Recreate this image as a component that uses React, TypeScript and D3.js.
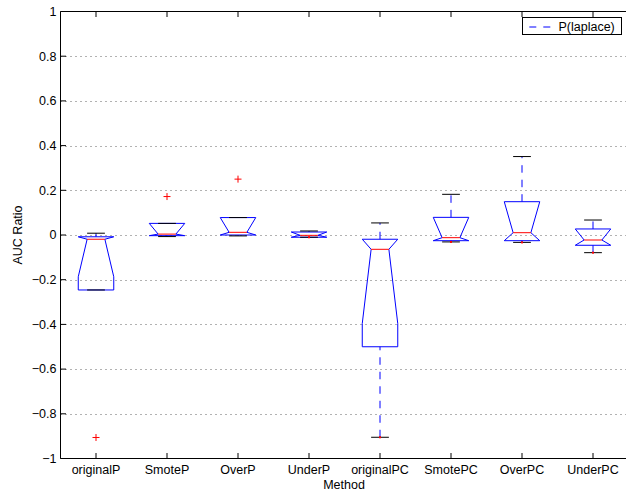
import React from "react";
import * as d3 from "d3";

// Methods compared on the x axis
const methods = [
  "originalP",
  "SmoteP",
  "OverP",
  "UnderP",
  "originalPC",
  "SmotePC",
  "OverPC",
  "UnderPC",
];

// Box statistics per method (AUC ratio)
const whiskerLow = [-0.246, -0.007, -0.004, -0.01, -0.905, -0.031, -0.033, -0.079];
const q1 = [-0.246, -0.003, 0.0, -0.01, -0.5, -0.0255, -0.0255, -0.046];
const notchLow = [-0.187, -0.003, 0.0, -0.01, -0.396, -0.0255, -0.0255, -0.046];
const medians = [-0.019, 0.004, 0.012, -0.0015, -0.064, -0.012, 0.0103, -0.0224];
const notchHigh = [-0.008, 0.052, 0.078, 0.0134, -0.019, 0.079, 0.149, 0.027];
const q3 = [-0.008, 0.052, 0.078, 0.0134, -0.019, 0.079, 0.149, 0.027];
const whiskerHigh = [0.008, 0.052, 0.078, 0.018, 0.054, 0.182, 0.351, 0.067];
const outliers: number[][] = [[-0.906], [0.172], [0.25], [], [], [], [], []];
const lowEndMarks = [false, false, false, true, true, true, true, true];

const yTicks = [-1, -0.8, -0.6, -0.4, -0.2, 0, 0.2, 0.4, 0.6, 0.8, 1];
const legendLabel = "P(laplace)";

const W = 626;
const H = 493;
const left = 60.5;
const right = 628.5;
const top = 11.5;
const bottom = 458.5;

const FONT = "'Liberation Sans', Arial, Helvetica, sans-serif";
const BLUE = "#0000ff";
const RED = "#ff0000";

export default function App() {
  const x = d3.scaleLinear().domain([0.5, methods.length + 0.5]).range([left, right]);
  const y = d3.scaleLinear().domain([-1, 1]).range([bottom, top]);
  const unit = x(1) - x(0);
  const boxHalf = unit * 0.25;
  const notchHalf = unit * 0.125;
  const capHalf = unit * 0.125;
  const tickLen = 5.5;
  const fmt = (v: number) => (v === 0 ? "0" : d3.format("")(v));

  return (
    <svg
      width={W}
      height={H}
      style={{ position: "absolute", left: 0, top: 0, background: "#fff" }}
      fontFamily={FONT}
    >
      <rect x={0} y={0} width={W} height={H} fill="#fff" />

      {/* horizontal dotted grid */}
      {yTicks
        .filter((t) => t > -1 && t < 1)
        .map((t) => (
          <line
            key={"g" + t}
            x1={left}
            x2={right}
            y1={Math.round(y(t)) + 0.5}
            y2={Math.round(y(t)) + 0.5}
            stroke="#000"
            strokeWidth={1}
            strokeDasharray="1 4"
            opacity={0.6}
          />
        ))}

      {/* boxes */}
      {methods.map((m, i) => {
        const c = x(i + 1);
        const pts: [number, number][] = [
          [c - boxHalf, q1[i]],
          [c - boxHalf, notchLow[i]],
          [c - notchHalf, medians[i]],
          [c - boxHalf, notchHigh[i]],
          [c - boxHalf, q3[i]],
          [c + boxHalf, q3[i]],
          [c + boxHalf, notchHigh[i]],
          [c + notchHalf, medians[i]],
          [c + boxHalf, notchLow[i]],
          [c + boxHalf, q1[i]],
        ];
        const path = d3.line<[number, number]>()
          .x((d) => d[0])
          .y((d) => y(d[1]))(pts) + "Z";
        return (
          <g key={m}>
            {/* whiskers, drawn from lower value to higher value */}
            {whiskerLow[i] < q1[i] && (
              <line
                x1={c}
                x2={c}
                y1={y(whiskerLow[i])}
                y2={y(q1[i])}
                stroke={BLUE}
                strokeDasharray="7.5 7"
              />
            )}
            {whiskerHigh[i] > q3[i] && (
              <line
                x1={c}
                x2={c}
                y1={y(q3[i])}
                y2={y(whiskerHigh[i])}
                stroke={BLUE}
                strokeDasharray="7.5 7"
              />
            )}
            <path d={path} fill="none" stroke={BLUE} strokeWidth={1} />
            {/* whisker caps */}
            <line
              x1={c - capHalf}
              x2={c + capHalf}
              y1={y(whiskerHigh[i])}
              y2={y(whiskerHigh[i])}
              stroke="#000"
            />
            <line
              x1={c - capHalf}
              x2={c + capHalf}
              y1={y(whiskerLow[i])}
              y2={y(whiskerLow[i])}
              stroke="#000"
            />
            {/* median */}
            <line
              x1={c - notchHalf}
              x2={c + notchHalf}
              y1={y(medians[i])}
              y2={y(medians[i])}
              stroke={RED}
            />
            {lowEndMarks[i] && (
              <rect x={c - 1} y={y(whiskerLow[i]) - 1} width={2} height={2} fill={RED} />
            )}
            {/* outliers */}
            {outliers[i].map((v, k) => (
              <path
                key={k}
                d={`M${c - 3.5},${y(v)}H${c + 3.5}M${c},${y(v) - 3.5}V${y(v) + 3.5}`}
                stroke={RED}
                strokeWidth={1}
              />
            ))}
          </g>
        );
      })}

      {/* axes frame */}
      <path
        d={`M${left},${top}H${right}M${left},${top}V${bottom}M${left},${bottom}H${right}M${right},${top}V${bottom}`}
        stroke="#000"
        strokeWidth={1}
        fill="none"
      />

      {/* x ticks, top and bottom, pointing inward */}
      {methods.map((m, i) => (
        <g key={"xt" + m}>
          <line x1={x(i + 1)} x2={x(i + 1)} y1={bottom} y2={bottom - tickLen} stroke="#000" />
          <line x1={x(i + 1)} x2={x(i + 1)} y1={top} y2={top + tickLen} stroke="#000" />
          <text x={x(i + 1)} y={474} textAnchor="middle" fontSize={12.5} fill="#000">
            {m}
          </text>
        </g>
      ))}

      {/* y ticks */}
      {yTicks.map((t) => (
        <g key={"yt" + t}>
          <line x1={left} x2={left + tickLen} y1={y(t)} y2={y(t)} stroke="#000" />
          <text
            x={left - 4}
            y={y(t)}
            dy="0.35em"
            textAnchor="end"
            fontSize={12.5}
            fill="#000"
          >
            {fmt(t)}
          </text>
        </g>
      ))}

      {/* axis titles */}
      <text x={(left + right) / 2 - 0.5} y={489} textAnchor="middle" fontSize={12.5} fill="#000">
        Method
      </text>
      <text
        transform={`translate(22,${y(0)}) rotate(-90)`}
        textAnchor="middle"
        fontSize={12.5}
        fill="#000"
      >
        AUC Ratio
      </text>

      {/* legend */}
      <g>
        <rect x={522.5} y={17.5} width={99} height={17} fill="#fff" stroke="#000" />
        <line x1={529.3} x2={551.7} y1={27} y2={27} stroke={BLUE} strokeDasharray="7 7" />
        <text x={558.5} y={30.8} fontSize={12.5} fill="#000">
          {legendLabel}
        </text>
      </g>
    </svg>
  );
}
